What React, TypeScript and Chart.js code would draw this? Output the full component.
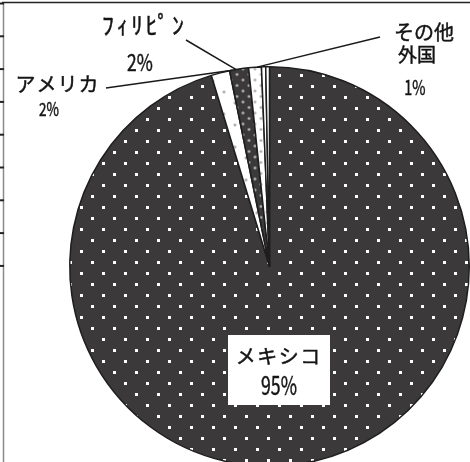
import React, { useEffect, useRef } from "react";
import { Chart, registerables } from "chart.js";

Chart.register(...registerables);

// ---- data ----
const categories = ["メキシコ", "アメリカ", "ﾌｨﾘﾋﾟﾝ", "その他外国", "", ""];
const shares = [95.3, 1.5, 1.53, 1.03, 0.34, 0.3];
const percentLabels = ["95%", "2%", "2%", "1%", "", ""];

const FONT = '"Noto Sans CJK JP", "Noto Sans CJK SC", sans-serif';

type Dot = [number, number];

function makePattern(
  w: number,
  h: number,
  bg: string,
  dots: Dot[],
  dotColor: string,
  size: number,
  soft: boolean
): CanvasPattern | string {
  const c = document.createElement("canvas");
  c.width = w;
  c.height = h;
  const x = c.getContext("2d");
  if (!x) return bg;
  x.fillStyle = bg;
  x.fillRect(0, 0, w, h);
  for (const [dx, dy] of dots) {
    if (soft) {
      const g = x.createRadialGradient(dx, dy, 0, dx, dy, size);
      g.addColorStop(0, dotColor);
      g.addColorStop(1, bg);
      x.fillStyle = g;
      x.beginPath();
      x.arc(dx, dy, size, 0, Math.PI * 2);
      x.fill();
    } else {
      x.fillStyle = dotColor;
      x.fillRect(dx, dy, size, size);
    }
  }
  const p = x.createPattern(c, "repeat");
  return p || bg;
}

function drawText(
  ctx: CanvasRenderingContext2D,
  text: string,
  x: number,
  y: number,
  size: number,
  sx: number,
  spacing: number
) {
  ctx.save();
  ctx.translate(x, y);
  ctx.scale(sx, 1);
  ctx.font = `${size}px ${FONT}`;
  (ctx as any).letterSpacing = `${spacing}px`;
  ctx.textAlign = "center";
  ctx.textBaseline = "middle";
  ctx.fillStyle = "#141414";
  ctx.strokeStyle = "#141414";
  ctx.lineWidth = 0.45;
  ctx.fillText(text, spacing / 2, 0);
  ctx.strokeText(text, spacing / 2, 0);
  ctx.restore();
}

export default function App() {
  const ref = useRef<HTMLCanvasElement | null>(null);

  useEffect(() => {
    const canvas = ref.current;
    if (!canvas) return;

    const dark = "#3b393a";
    const fills = [
      makePattern(22, 22, dark, [[3, 19], [14, 8]], "#ffffff", 3, false),
      makePattern(22, 22, "#ffffff", [[4, 4], [15, 15]], "#8f8f8f", 2.2, true),
      makePattern(12, 11, dark, [[3, 3], [9, 8.5]], "#d0d0d0", 2.2, true),
      makePattern(12, 11, "#ffffff", [[3, 3], [9, 8.5]], "#9a9a9a", 2.2, true),
      "#ffffff",
      "#ffffff",
    ];

    const labelLayout: Record<
      number,
      {
        lines: { text: string; x: number; y: number; size: number; sx: number; sp: number }[];
        from: [number, number];
        frac: number;
      }
    > = {
      1: {
        lines: [
          { text: categories[1], x: 57, y: 84, size: 20, sx: 1, sp: 1 },
          { text: percentLabels[1], x: 49, y: 109, size: 18, sx: 0.75, sp: 0 },
        ],
        from: [106, 88],
        frac: 1.15,
      },
      2: {
        lines: [
          { text: categories[2], x: 143, y: 25, size: 24, sx: 1, sp: 2.5 },
          { text: percentLabels[2], x: 140, y: 62, size: 23, sx: 0.76, sp: 0 },
        ],
        from: [186, 40],
        frac: 0.35,
      },
      3: {
        lines: [
          { text: categories[3].slice(0, 3), x: 424, y: 32, size: 20, sx: 1, sp: 0 },
          { text: categories[3].slice(3), x: 417, y: 55, size: 19, sx: 1, sp: 0 },
          { text: percentLabels[3], x: 415, y: 87, size: 20, sx: 0.72, sp: 0 },
        ],
        from: [380, 37],
        frac: 0.65,
      },
    };

    const decor = {
      id: "decor",
      afterDraw(chart: any) {
        const ctx: CanvasRenderingContext2D = chart.ctx;
        const meta = chart.getDatasetMeta(0);
        ctx.save();

        // frame remnants at the left and top
        ctx.strokeStyle = "#8a8a8a";
        ctx.lineWidth = 1.5;
        ctx.beginPath();
        ctx.moveTo(3.5, 3);
        ctx.lineTo(3.5, 480);
        ctx.stroke();
        ctx.strokeStyle = "#222";
        ctx.beginPath();
        ctx.moveTo(2, 2.5);
        ctx.lineTo(470, 2.5);
        ctx.stroke();
        ctx.lineWidth = 2;
        for (let i = 0; i < 9; i++) {
          const ty = 3.5 + i * 32.8;
          ctx.beginPath();
          ctx.moveTo(0, ty);
          ctx.lineTo(4, ty);
          ctx.stroke();
        }

        // leader lines
        ctx.strokeStyle = "#1a1a1a";
        ctx.lineWidth = 1.5;
        for (const key of Object.keys(labelLayout)) {
          const i = Number(key);
          const L = labelLayout[i];
          const arc = meta.data[i];
          if (!arc) continue;
          const a = arc.startAngle + (arc.endAngle - arc.startAngle) * L.frac;
          const r = arc.outerRadius;
          const ex = arc.x + Math.cos(a) * r;
          const ey = arc.y + Math.sin(a) * r;
          ctx.beginPath();
          ctx.moveTo(L.from[0], L.from[1]);
          ctx.lineTo(ex, ey);
          ctx.stroke();
        }

        // labels
        for (const key of Object.keys(labelLayout)) {
          for (const t of labelLayout[Number(key)].lines) {
            drawText(ctx, t.text, t.x, t.y, t.size, t.sx, t.sp);
          }
        }

        // main slice label box
        ctx.fillStyle = "#ffffff";
        ctx.fillRect(228, 335, 102, 70);
        drawText(ctx, categories[0], 278, 356, 20, 1, 1.5);
        drawText(ctx, percentLabels[0], 279, 385, 26, 0.68, 0);

        ctx.restore();
      },
    };

    const chart = new Chart(canvas, {
      type: "pie",
      data: {
        labels: categories,
        datasets: [
          {
            data: shares,
            backgroundColor: fills as any,
            borderColor: "#1e1e1e",
            borderWidth: 1.5,
          },
        ],
      },
      options: {
        responsive: false,
        animation: false,
        layout: { padding: { left: 69, right: 0, top: 66, bottom: 13 } },
        plugins: {
          legend: { display: false },
          tooltip: { enabled: false },
        },
      },
      plugins: [decor],
    });

    return () => chart.destroy();
  }, []);

  return (
    <div
      style={{
        position: "absolute",
        left: 0,
        top: 0,
        width: 470,
        height: 462,
        overflow: "hidden",
        background: "#fff",
      }}
    >
      <canvas ref={ref} width={470} height={480} style={{ display: "block" }} />
    </div>
  );
}
